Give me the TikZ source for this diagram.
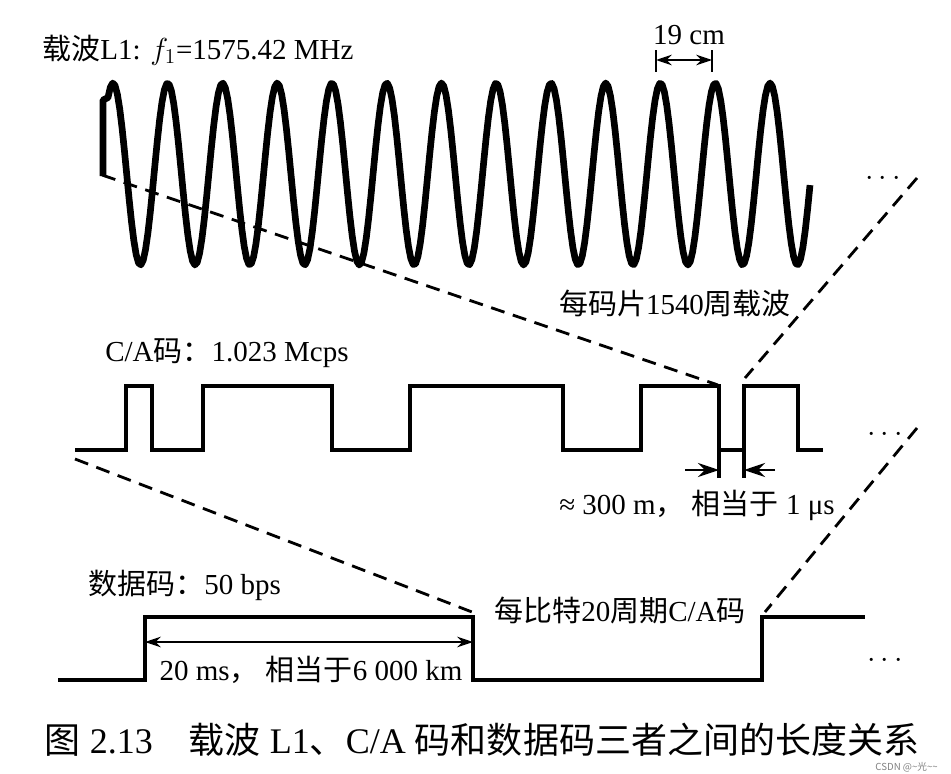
\documentclass[tikz,border=0pt]{standalone}
\usepackage{fontspec}
\setmainfont{Liberation Serif}
\newfontfamily\cjk{Noto Sans CJK SC}
\usetikzlibrary{arrows.meta}

\tikzset{
  wave/.style={line width=3.8pt, line join=round},
  pulse/.style={line width=1.8pt},
  guide/.style={line width=1.6pt, dash pattern=on 8pt off 5pt},
  lbl/.style={font=\fontsize{16.5}{18}\selectfont, inner sep=0pt},
  dim/.style={line width=1.2pt, {Stealth[length=9pt,width=6pt]}-{Stealth[length=9pt,width=6pt]}},
}

\begin{document}
\begin{tikzpicture}[x=0.02cm, y=-0.02cm]
  \useasboundingbox (0,0) rectangle (951,774);

  % carrier L1
  \node[lbl, anchor=west] (carrier) at (42,50) {{\cjk 载波}L1: $f_1$=1575.42 MHz};
  \draw[wave] (103,176) -- (103,100) -- plot[domain=108:810, samples=300] (\x, {174-91*cos(6.5753*(\x-113))});
  \draw[line width=1pt] (656,50) -- (656,72) (712,50) -- (712,72);
  \coordinate (wa) at (656,60); \coordinate (wb) at (712,60);
  \draw[dim, line width=0.8pt] (wa) -- (wb);
  \node[lbl] (wavelen) at (689,35) {19 cm};
  \node[lbl, anchor=base] (dotsa) at (883,185) {$\cdots$};
  \node[lbl] (chipcyc) at (675,303) {{\cjk 每码片}1540{\cjk 周载波}};

  % C/A code
  \node[lbl, anchor=west] (ca) at (105,353) {C/A{\cjk 码：}1.023 Mcps};
  \draw[pulse] (75,450) -- (126,450) -- (126,386) -- (152,386) -- (152,450) -- (203,450) -- (203,386) -- (332,386) -- (332,450)
    -- (410,450) -- (410,386) -- (563,386) -- (563,450) -- (641,450) -- (641,386) -- (719,386) -- (719,450) -- (744,450)
    -- (744,386) -- (798,386) -- (798,450) -- (823,450);
  \draw[pulse] (719,450) -- (719,478) (744,450) -- (744,478);
  \coordinate (chipl) at (719,470); \coordinate (chipr) at (744,470);
  \draw[line width=1.3pt, -{Stealth[length=12pt,width=8pt]}] (685,470) -- (chipl);
  \draw[line width=1.3pt, -{Stealth[length=12pt,width=8pt]}] (775,470) -- (chipr);
  \node[lbl] (chiplen) at (697,505) {≈ 300 m{\cjk ，} {\cjk 相当于} 1 μs};
  \node[lbl, anchor=base] (dotsb) at (885,441) {$\cdots$};

  % data code
  \node[lbl, anchor=west] (data) at (88,585) {{\cjk 数据码：}50 bps};
  \draw[pulse, line width=2pt] (58,680) -- (145,680) -- (145,617) -- (473,617) -- (473,680) -- (762,680) -- (762,617) -- (865,617);
  \coordinate (bitl) at (145,642); \coordinate (bitr) at (473,642);
  \draw[dim] (bitl) -- (bitr);
  \node[lbl] (bitlen) at (311,670) {20 ms{\cjk ，} {\cjk 相当于}6 000 km};
  \node[lbl] (bitcyc) at (620,610) {{\cjk 每比特}20{\cjk 周期}C/A{\cjk 码}};
  \node[lbl, anchor=base] (dotsc) at (885,667) {$\cdots$};

  % zoom guides
  \coordinate (g1) at (102,175); \coordinate (g2) at (718,385);
  \coordinate (g3) at (917,178); \coordinate (g4) at (745,378);
  \coordinate (g5) at (75,459);  \coordinate (g6) at (472,612);
  \coordinate (g7) at (917,428); \coordinate (g8) at (765,612);
  \draw[guide] (g1) -- (g2);
  \draw[guide] (g3) -- (g4);
  \draw[guide] (g5) -- (g6);
  \draw[guide] (g7) -- (g8);

  % caption
  \node[font=\fontsize{20.5}{24}\selectfont] (caption) at (482,740) {{\cjk 图} 2.13\quad{\cjk 载波} L1{\cjk 、}C/A {\cjk 码和数据码三者之间的长度关系}};
  \node[font=\fontsize{5.5}{6}\selectfont, text=gray, anchor=east] (mark) at (944,767) {{\cjk CSDN @\textasciitilde 光\textasciitilde\textasciitilde}};
\end{tikzpicture}
\end{document}
